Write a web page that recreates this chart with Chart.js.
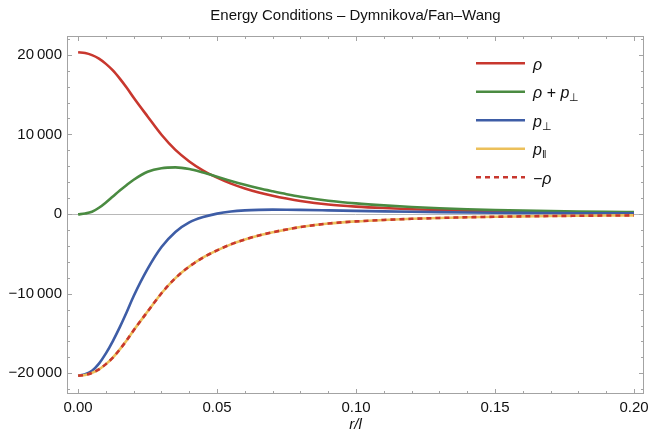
<!DOCTYPE html>
<html><head><meta charset="utf-8">
<script src="https://cdn.jsdelivr.net/npm/chart.js@4.4.1/dist/chart.umd.min.js"></script>
<style>html,body{margin:0;padding:0;background:#fff}#wrap{width:650px;height:444px}</style>
</head><body><div id="wrap"><canvas id="c" width="650" height="444"></canvas></div>
<script>
// r/l sample positions
const rVals = [0,0.0025,0.005,0.0075,0.01,0.0125,0.015,0.0175,0.02,0.025,0.03,0.035,0.04,0.045,0.05,0.055,0.06,0.065,0.07,0.075,0.08,0.09,0.10,0.11,0.12,0.13,0.14,0.15,0.16,0.17,0.18,0.19,0.20];
// series
const rho          = [20300,20210,19950,19510,18850,18030,17000,15850,14600,12250,9950,8050,6600,5450,4560,3810,3200,2700,2290,1940,1640,1200,930,745,605,495,410,345,293,252,220,193,172];
const rhoPlusPperp = [-50,60,280,780,1450,2200,2950,3650,4300,5300,5750,5850,5650,5200,4680,4150,3660,3230,2850,2490,2170,1670,1330,1080,885,727,603,507,430,369,320,280,248];
const pPerp        = [-20300,-20130,-19680,-18780,-17500,-15950,-14200,-12300,-10300,-6900,-4150,-2250,-1050,-380,50,310,450,520,545,540,520,460,395,335,280,232,193,162,137,117,100,87,76];
const pPar         = [-20300,-20210,-19950,-19510,-18850,-18030,-17000,-15850,-14600,-12250,-9950,-8050,-6600,-5450,-4560,-3810,-3200,-2700,-2290,-1940,-1640,-1200,-930,-745,-605,-495,-410,-345,-293,-252,-220,-193,-172];
const negRho       = [-20300,-20210,-19950,-19510,-18850,-18030,-17000,-15850,-14600,-12250,-9950,-8050,-6600,-5450,-4560,-3810,-3200,-2700,-2290,-1940,-1640,-1200,-930,-745,-605,-495,-410,-345,-293,-252,-220,-193,-172];
// tick labels
const xTicks = [0,0.05,0.10,0.15,0.20];
const xTickLabels = ['0.00','0.05','0.10','0.15','0.20'];
const yTicks = [-20000,-10000,0,10000,20000];
const yTickLabels = ['\u221220\u2009000','\u221210\u2009000','0','10\u2009000','20\u2009000'];
const seriesLabels = ['\u03C1','\u03C1 + p\u22A5','p\u22A5','p\u2016','\u2212\u03C1'];

const FONT = '"Liberation Sans", Arial, sans-serif';
const RED='#C8372E', GREEN='#4A8B41', BLUE='#3E5DA6', YELLOW='#ECC05A';
const FRAME='#a3a3a3';

const pts = arr => rVals.map((r,i)=>({x:r,y:arr[i]}));
const mk = (label, arr, color, order, dash) => ({
  label, data: pts(arr), borderColor: color, backgroundColor: color,
  borderWidth: 2.6, pointRadius: 0, cubicInterpolationMode: 'monotone',
  order, borderDash: dash || [], fill:false
});

const framePlugin = {
  id:'frame',
  beforeDatasetsDraw(chart){
    const {ctx, chartArea:a, scales:{y}} = chart;
    const y0 = Math.round(y.getPixelForValue(0))+0.5;
    ctx.save();
    ctx.strokeStyle = '#b8b8b8'; ctx.lineWidth = 1;
    ctx.beginPath(); ctx.moveTo(a.left,y0); ctx.lineTo(a.right,y0); ctx.stroke();
    ctx.restore();
  },
  afterDraw(chart){
    const {ctx, chartArea:a, scales:{x,y}} = chart;
    ctx.save();
    ctx.strokeStyle = FRAME; ctx.lineWidth = 1;
    ctx.strokeRect(Math.round(a.left)+0.5, Math.round(a.top)+0.5, Math.round(a.right-a.left)-1, Math.round(a.bottom-a.top)-1);
    ctx.beginPath();
    for (let k=0;k<=20;k++){
      const v = k*0.01; const px = Math.round(x.getPixelForValue(v))+0.5;
      const L = (k%5===0)?5:3;
      ctx.moveTo(px,a.bottom); ctx.lineTo(px,a.bottom-L);
      ctx.moveTo(px,a.top); ctx.lineTo(px,a.top+L);
    }
    for (let k=-11;k<=11;k++){
      const v = k*2000; const py = Math.round(y.getPixelForValue(v))+0.5;
      if (py<a.top||py>a.bottom) continue;
      const L = (k%5===0)?5:3;
      ctx.moveTo(a.left,py); ctx.lineTo(a.left+L,py);
      ctx.moveTo(a.right,py); ctx.lineTo(a.right-L,py);
    }
    ctx.stroke();
    ctx.restore();
  }
};

const legendPlugin = {
  id:'mlegend',
  afterDatasetsDraw(chart){
    const {ctx, chartArea:a} = chart;
    ctx.save();
    chart.data.datasets.forEach((ds,i)=>{
      const yy = a.top + 27.3 + i*28.5;
      const x1 = a.right-168, x2 = a.right-119;
      ctx.lineWidth = 2.6;
      ctx.strokeStyle = ds.borderColor;
      ctx.setLineDash(ds.borderDash||[]);
      ctx.beginPath(); ctx.moveTo(x1,yy); ctx.lineTo(x2,yy); ctx.stroke();
      ctx.setLineDash([]);
      let tx = a.right-111;
      const base = yy+6.5;
      ctx.fillStyle = '#111'; ctx.textBaseline='alphabetic'; ctx.textAlign='left';
      for (const ch of ds.label){
        const sub = (ch==='\u22A5'||ch==='\u2016');
        if (sub){
          ctx.font = '11px ' + FONT;
          ctx.fillText(ch, tx, base+3);
          tx += ctx.measureText(ch).width;
        } else {
          ctx.font = 'italic 16px ' + FONT;
          ctx.fillText(ch, tx, base);
          tx += ctx.measureText(ch).width;
        }
      }
    });
    ctx.restore();
  }
};

new Chart(document.getElementById('c'), {
  type:'line',
  data:{ datasets:[
    mk(seriesLabels[0], rho, RED, 4),
    mk(seriesLabels[1], rhoPlusPperp, GREEN, 3),
    mk(seriesLabels[2], pPerp, BLUE, 2),
    mk(seriesLabels[3], pPar, YELLOW, 1),
    mk(seriesLabels[4], negRho, RED, 0, [5,4])
  ]},
  options:{
    responsive:false, devicePixelRatio:1, animation:false,
    layout:{padding:{left:0,right:6,top:0,bottom:0}},
    plugins:{
      legend:{display:false}, tooltip:{enabled:false},
      title:{display:true, fullSize:false, text:'Energy Conditions \u2013 Dymnikova/Fan\u2013Wang',
        color:'#111', font:{family:FONT, size:15, weight:'normal'}, padding:{top:7,bottom:11}}
    },
    scales:{
      x:{type:'linear', min:-0.004, max:0.2036,
        grid:{display:false, drawTicks:false}, border:{display:false},
        afterBuildTicks: s => { s.ticks = xTicks.map(v=>({value:v})); },
        afterFit: s => { s.height = 50; s.paddingLeft = 0; s.paddingRight = 0; },
        ticks:{padding:5, color:'#111', font:{family:FONT,size:15}, maxRotation:0,
          callback:(v)=>{ const i = xTicks.findIndex(t=>Math.abs(t-v)<1e-9); return i>=0?xTickLabels[i]:''; }},
        title:{display:true, text:'r/l', color:'#111', font:{family:FONT,size:15,style:'italic'}, padding:{top:2,bottom:10}}
      },
      y:{type:'linear', min:-22600, max:22350,
        grid:{display:false, drawTicks:false}, border:{display:false},
        afterBuildTicks: s => { s.ticks = yTicks.map(v=>({value:v})); },
        afterFit: s => { s.width = 67; s.paddingTop = 0; s.paddingBottom = 0; },
        ticks:{padding:5, color:'#111', font:{family:FONT,size:15},
          callback:(v)=>{ const i = yTicks.indexOf(v); return i>=0?yTickLabels[i]:''; }}
      }
    }
  },
  plugins:[framePlugin, legendPlugin]
});
</script></body></html>
